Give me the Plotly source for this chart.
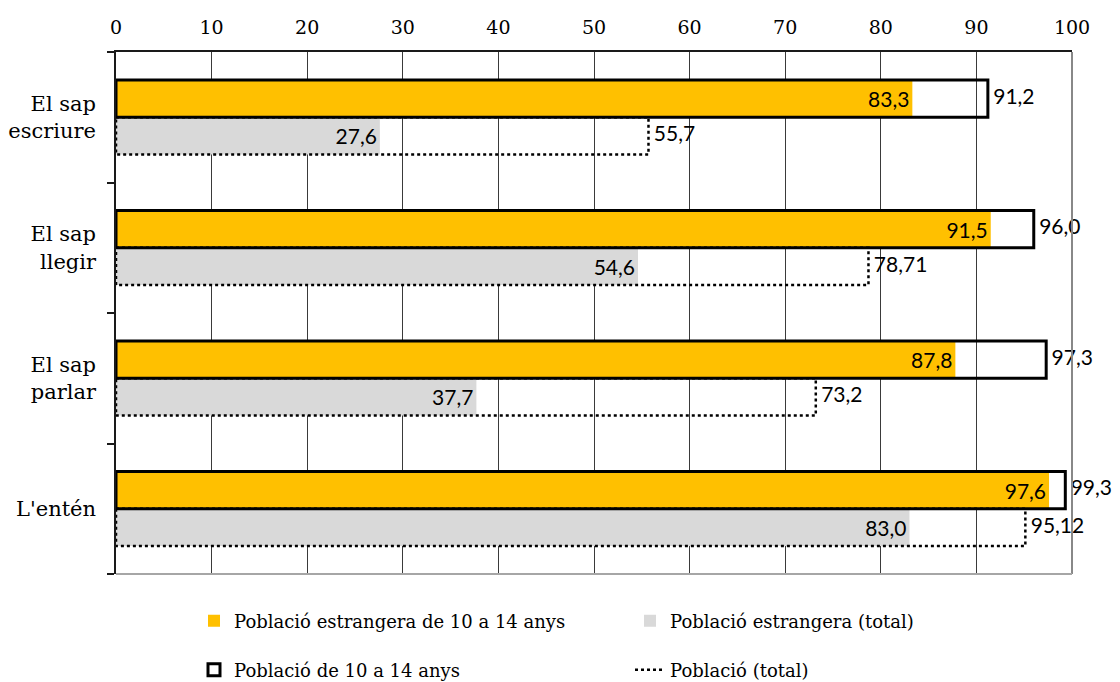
import plotly.graph_objects as go

categories = ["El sap<br>escriure", "El sap<br>llegir", "El sap<br>parlar", "L'entén"]
estr_10_14 = [83.3, 91.5, 87.8, 97.6]
estr_total = [27.6, 54.6, 37.7, 83.0]
pob_10_14 = [91.2, 96.0, 97.3, 99.3]
pob_total = [55.7, 78.71, 73.2, 95.12]
x_ticks = [0, 10, 20, 30, 40, 50, 60, 70, 80, 90, 100]


def fmt(v, dec=1):
    return f"{v:.{dec}f}".replace(".", ",")


lab_10_14 = [fmt(v) for v in estr_10_14]
lab_etot = [fmt(v) for v in estr_total]
lab_p1014 = [fmt(v) for v in pob_10_14]
lab_ptot = ["55,7", "78,71", "73,2", "95,12"]

ypos = list(range(len(categories)))
W = 0.285

# the page body adds an 8px offset; figure is sized to fit the 1120x682 window
FW, FH = 1112, 674

LABEL_FONT = dict(family="Lato, Open Sans, sans-serif", size=21, color="#000000")
SERIF = "DejaVu Serif, serif"
LEG_FONT = dict(family=SERIF, size=18, color="#000")

fig = go.Figure()

# gray: foreign population total (lower row)
fig.add_trace(go.Bar(
    y=ypos, x=estr_total, orientation="h", base=0,
    offset=0, width=W,
    marker=dict(color="#D9D9D9", line=dict(width=0)),
    text=lab_etot, textposition="inside", insidetextanchor="end",
    textfont=LABEL_FONT, textangle=0,
    name="Població estrangera (total)", legend="legend", showlegend=True,
    hoverinfo="skip",
))

# orange: foreign population 10-14 (upper row)
fig.add_trace(go.Bar(
    y=ypos, x=estr_10_14, orientation="h", base=0,
    offset=-W, width=W,
    marker=dict(color="#FFC000", line=dict(width=0)),
    text=lab_10_14, textposition="inside", insidetextanchor="end",
    textfont=LABEL_FONT, textangle=0,
    name="Població estrangera de 10 a 14 anys", legend="legend", showlegend=True,
    hoverinfo="skip",
))

# black outline: population 10-14 (upper row)
fig.add_trace(go.Bar(
    y=ypos, x=pob_10_14, orientation="h", base=0,
    offset=-W, width=W,
    marker=dict(color="rgba(0,0,0,0)", line=dict(width=3, color="#000000")),
    name="Població de 10 a 14 anys", legend="legend2", showlegend=True,
    hoverinfo="skip",
))
fig.add_trace(go.Scatter(
    x=pob_10_14, y=[yi - W / 2 for yi in ypos], mode="text",
    text=[" " + t for t in lab_p1014], textposition="middle right", textfont=LABEL_FONT,
    showlegend=False, hoverinfo="skip", cliponaxis=False,
))

# dotted outline: total population (lower row)
xs, ys = [], []
for yi, v in zip(ypos, pob_total):
    xs += [0, v, v, 0, 0, None]
    ys += [yi, yi, yi + W, yi + W, yi, None]
fig.add_trace(go.Scatter(
    x=xs, y=ys, mode="lines",
    line=dict(color="#000000", width=2.5, dash="dot"),
    name="Població (total)", legend="legend2", showlegend=True,
    hoverinfo="skip",
))
fig.add_trace(go.Scatter(
    x=pob_total, y=[yi + W / 2 for yi in ypos], mode="text",
    text=[" " + t for t in lab_ptot], textposition="middle right", textfont=LABEL_FONT,
    showlegend=False, hoverinfo="skip", cliponaxis=False,
))

fig.update_layout(
    width=FW, height=FH,
    margin=dict(l=108, r=48, t=44, b=108, autoexpand=False),
    plot_bgcolor="white", paper_bgcolor="white",
    barmode="overlay",
    showlegend=True,
    legend=dict(
        orientation="h", xref="container", yref="container",
        x=186 / FW, y=1 - 613 / FH, xanchor="left", yanchor="middle",
        font=LEG_FONT, entrywidth=391, entrywidthmode="pixels",
        traceorder="reversed", itemwidth=30, bgcolor="rgba(0,0,0,0)",
    ),
    legend2=dict(
        orientation="h", xref="container", yref="container",
        x=186 / FW, y=1 - 662 / FH, xanchor="left", yanchor="middle",
        font=LEG_FONT, entrywidth=391, entrywidthmode="pixels",
        itemwidth=30, bgcolor="rgba(0,0,0,0)",
    ),
    xaxis=dict(
        side="top", range=[0, 100], tickvals=x_ticks,
        ticktext=[str(t) for t in x_ticks],
        showgrid=True, gridcolor="#3a3a3a", gridwidth=1,
        showline=True, linecolor="#1a1a1a", linewidth=1.5,
        mirror=False, ticks="", zeroline=False, automargin=False,
        tickfont=dict(family=SERIF, size=19, color="#000"),
        ticklabelstandoff=9,
        fixedrange=True,
    ),
    yaxis=dict(
        range=[3.5, -0.5], tickvals=ypos, ticktext=categories,
        ticks="", showgrid=False, zeroline=False, automargin=False,
        showline=True, linecolor="#1a1a1a", linewidth=1.5,
        tickfont=dict(family=SERIF, size=21, color="#000"),
        minor=dict(tickvals=[-0.5, 0.5, 1.5, 2.5, 3.5], ticks="outside",
                   ticklen=7, tickcolor="#1a1a1a", tickwidth=1.5, showgrid=False),
        ticklabelstandoff=14,
        fixedrange=True,
    ),
    shapes=[
        dict(type="line", xref="paper", yref="paper", x0=1, x1=1, y0=0, y1=1,
             line=dict(color="#888888", width=2)),
        dict(type="line", xref="paper", yref="paper", x0=0, x1=1, y0=0, y1=0,
             line=dict(color="#a6a6a6", width=2)),
    ],
)

fig.write_html("out.html")
